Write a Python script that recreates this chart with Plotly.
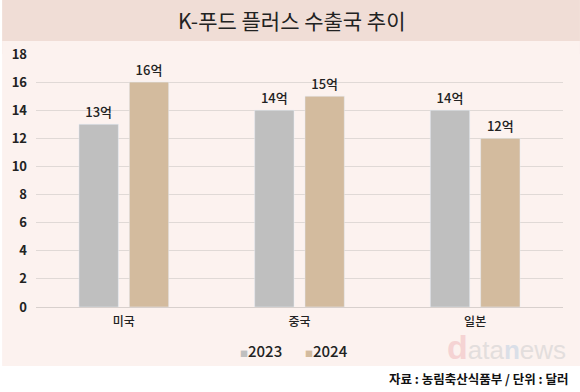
import plotly.graph_objects as go

categories = ["미국", "중국", "일본"]
series_names = ["2023", "2024"]
values_2023 = [13, 14, 14]
values_2024 = [16, 15, 12]
labels_2023 = ["13억", "14억", "14억"]
labels_2024 = ["16억", "15억", "12억"]
y_ticks = [0, 2, 4, 6, 8, 10, 12, 14, 16, 18]
colors = ["#bfbfbf", "#d3bb9e"]

FONT = "Noto Sans CJK KR"
W, H = 580, 392
L, R, T, B = 34, 17, 54, 85
PW, PH = W - L - R, H - T - B

def px(x):
    return (x - L) / PW

def py(y):
    return (H - B - y) / PH

fig = go.Figure()
for name, vals, labs, col in zip(series_names, [values_2023, values_2024],
                                 [labels_2023, labels_2024], colors):
    fig.add_bar(x=categories, y=vals, name=name, marker_color=col, showlegend=False,
                text=labs, textposition="outside", cliponaxis=False,
                textfont=dict(size=13, color="#222222", family=FONT, weight=500),
                hoverinfo="skip")

legend_x = [237, 302]
legend_ann = []
for name, col, lx in zip(series_names, colors, legend_x):
    legend_ann.append(dict(
        text=f"<span style='color:{col};font-size:8px'>■</span><span style='font-size:15px'>{name}</span>",
        xref="paper", yref="paper", x=px(lx), y=py(350), xanchor="left", yanchor="middle",
        showarrow=False, font=dict(family=FONT, color="#222222", weight=500)))

fig.update_layout(
    width=W, height=H,
    margin=dict(l=L, r=R, t=T, b=B),
    paper_bgcolor="white",
    plot_bgcolor="rgba(0,0,0,0)",
    barmode="group", bargap=0.427, bargroupgap=0.218,
    font=dict(family=FONT, color="#222222"),
    showlegend=False,
    xaxis=dict(showgrid=False, showline=False, ticks="", ticklabelstandoff=6,
               tickfont=dict(size=12, color="#222222", weight=500)),
    yaxis=dict(range=[0, 18], tickvals=y_ticks, showgrid=True, gridcolor="#e0d9d6", gridwidth=1,
               zeroline=True, zerolinecolor="#d8d0cd", zerolinewidth=1,
               tickfont=dict(size=13, color="#222222", weight=600), ticks="", ticklabelstandoff=8),
    shapes=[
        dict(type="rect", xref="paper", yref="paper", layer="below",
             x0=px(0), x1=px(W), y0=1, y1=py(0), fillcolor="#f0ddd6", line_width=0),
        dict(type="rect", xref="paper", yref="paper", layer="below",
             x0=px(0), x1=px(W), y0=py(366), y1=py(41),
             fillcolor="#fcf2ef", line_width=0),
    ],
    annotations=[
        dict(text="K-푸드 플러스 수출국 추이", xref="paper", yref="paper",
             x=px(290), y=py(20), xanchor="center", yanchor="middle",
             showarrow=False, font=dict(size=21, color="#222222", family=FONT)),
        dict(text="<b>자료 : 농림축산식품부 / 단위 : 달러</b>", xref="paper", yref="paper",
             x=px(571), y=py(378), xanchor="right", yanchor="middle",
             showarrow=False, font=dict(size=12.5, color="#111111", family=FONT)),
        dict(text="<span style='color:#f5d3d3;font-size:34px'><b>d</b></span>"
                  "<span style='color:#e3dedd'>ata</span>"
                  "<span style='color:#dadfe8'><b>n</b></span>"
                  "<span style='color:#e3dedd'>ews</span>",
             xref="paper", yref="paper",
             x=px(568), y=py(347), xanchor="right", yanchor="middle",
             showarrow=False, font=dict(size=26, family="Liberation Sans")),
    ] + legend_ann,
)

fig.write_html("out.html", config={"displayModeBar": False},
               post_script="document.body.style.margin='0';")
